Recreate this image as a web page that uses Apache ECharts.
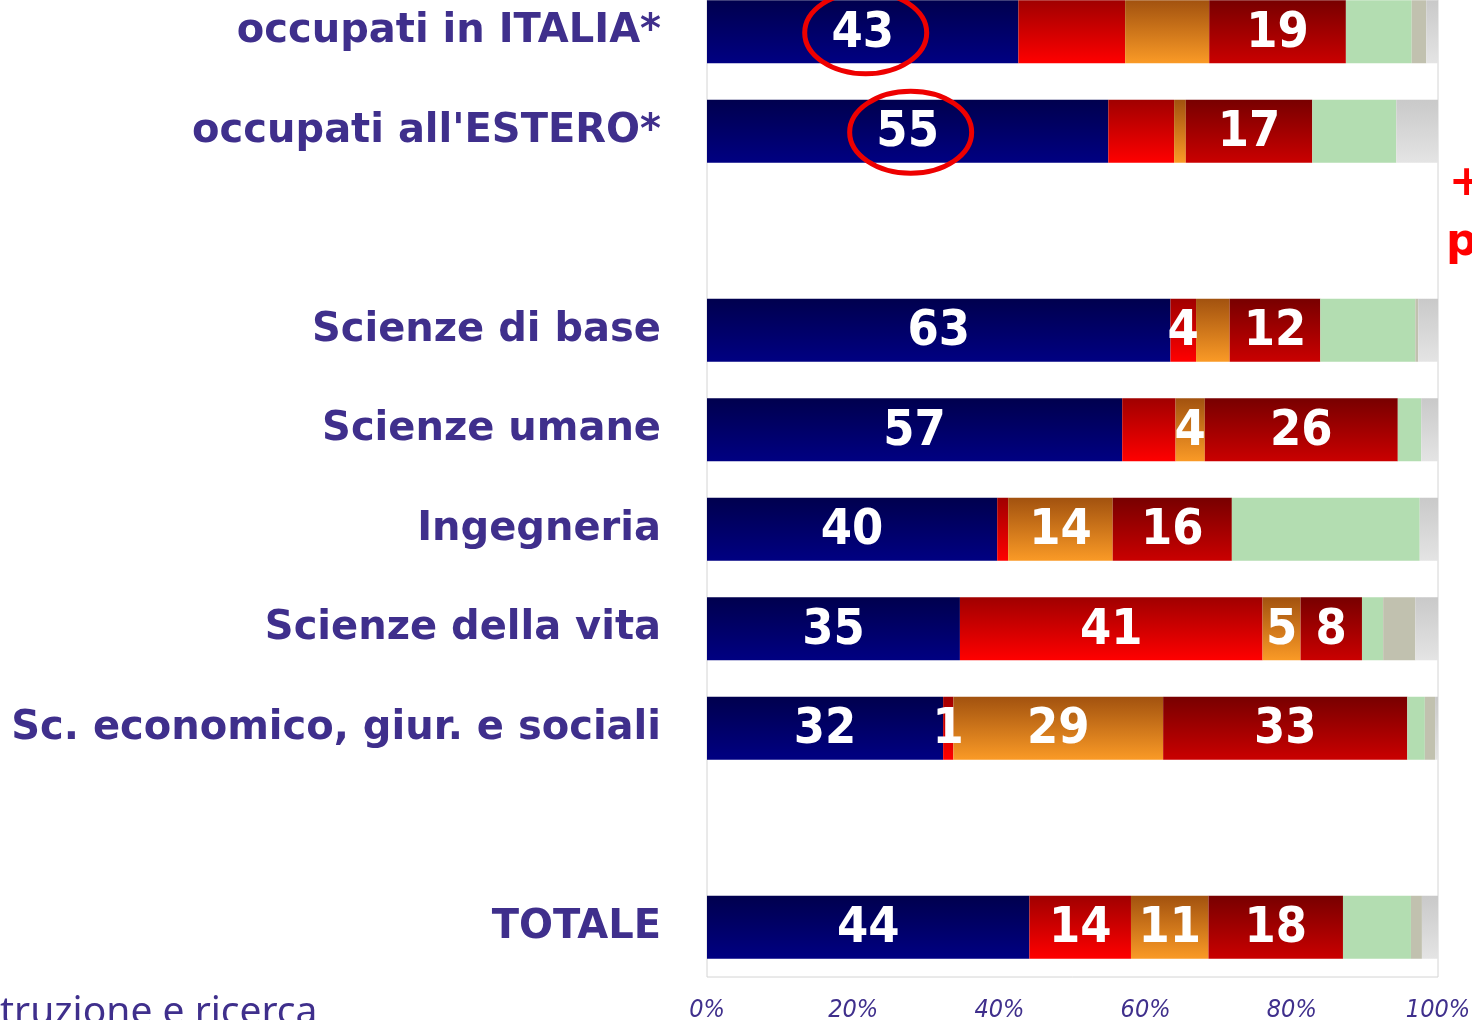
<!DOCTYPE html>
<html>
<head>
<meta charset="utf-8">
<script src="https://cdn.jsdelivr.net/npm/echarts@6/dist/echarts.min.js"></script>
<style>
html, body { margin: 0; padding: 0; background: #fff; }
#main { width: 1472px; height: 1020px; }
</style>
</head>
<body>
<div id="main"></div>
<script>
// categorie, dall'alto verso il basso ('' = riga vuota)
var categories = ['occupati in ITALIA*', "occupati all'ESTERO*", '', 'Scienze di base', 'Scienze umane',
	'Ingegneria', 'Scienze della vita', 'Sc. economico, giur. e sociali', '', 'TOTALE'];

// quote percentuali per segmento
var blu      = [42.6, 54.9, null, 63.4, 56.8, 39.7, 34.6, 32.3, null, 44.1];
var rosso    = [14.6,  9.0, null,  3.5,  7.3,  1.5, 41.4,  1.4, null, 13.9];
var arancio  = [11.5,  1.6, null,  4.6,  4.0, 14.3,  5.2, 28.7, null, 10.6];
var bordeaux = [18.7, 17.3, null, 12.4, 26.4, 16.3,  8.4, 33.4, null, 18.4];
var verde    = [ 9.0, 11.5, null, 13.0,  3.2, 25.7,  2.9,  2.4, null,  9.3];
var kaki     = [ 2.0,  0.0, null,  0.4,  0.0,  0.0,  4.4,  1.4, null,  1.5];
var grigio   = [ 1.6,  5.7, null,  2.7,  2.3,  2.5,  3.1,  0.4, null,  2.2];

// quali etichette compaiono nel grafico originale (1 = visibile)
var showBlu      = [1, 1, 0, 1, 1, 1, 1, 1, 0, 1];
var showRosso    = [0, 0, 0, 1, 0, 0, 1, 1, 0, 1];
var showArancio  = [0, 0, 0, 0, 1, 1, 1, 1, 0, 1];
var showBordeaux = [1, 1, 0, 1, 1, 1, 1, 1, 0, 1];

var xTicks = [0, 20, 40, 60, 80, 100];
var cerchiati = [0, 1]; // righe con il valore blu cerchiato

var viola = '#3f2f8c';

function grad(top, bottom) {
	return new echarts.graphic.LinearGradient(0, 0, 0, 1, [
		{offset: 0, color: top},
		{offset: 1, color: bottom}
	]);
}

function serie(name, values, color, shows) {
	var data = values.map(function(v, i) {
		if (v === null) return null;
		var item = {value: v};
		item.label = {show: !!(shows && shows[i])};
		return item;
	});
	return {
		name: name,
		type: 'bar',
		stack: 'tot',
		barWidth: 63,
		data: data,
		itemStyle: {color: color},
		label: {
			show: false,
			position: 'inside',
			offset: [0, 2],
			color: '#fff',
			fontFamily: 'DejaVu Sans Condensed',
			fontWeight: 'bold',
			fontSize: 50,
			formatter: function(p) { return Math.round(p.value); }
		},
		emphasis: {disabled: true},
		animation: false
	};
}

var chart = echarts.init(document.getElementById('main'));
var option = {
	animation: false,
	grid: {
		left: 707, right: 34, top: -18, bottom: 43,
		outerBoundsMode: 'none',
		show: true, borderColor: '#d4d4d4', borderWidth: 1,
		backgroundColor: 'transparent'
	},
	xAxis: {
		type: 'value',
		min: 0, max: 100, interval: 20,
		splitLine: {show: false},
		axisLine: {show: false},
		axisTick: {show: false},
		axisLabel: {
			margin: 21,
			color: viola,
			fontStyle: 'italic',
			fontFamily: 'DejaVu Sans Condensed',
			fontSize: 25,
			formatter: function(v) { return xTicks.indexOf(v) >= 0 ? v + '%' : ''; }
		}
	},
	yAxis: {
		type: 'category',
		inverse: true,
		data: categories,
		axisLine: {show: false},
		axisTick: {show: false},
		axisLabel: {
			margin: 46,
			padding: [4, 0, 0, 0],
			color: viola,
			fontFamily: 'DejaVu Sans',
			fontWeight: 'bold',
			fontSize: 40
		}
	},
	series: [
		serie('blu', blu, grad('#00004e', '#000082'), showBlu),
		serie('rosso', rosso, grad('#a00000', '#ff0000'), showRosso),
		serie('arancio', arancio, grad('#a2520f', '#fa9a26'), showArancio),
		serie('bordeaux', bordeaux, grad('#780000', '#ca0000'), showBordeaux),
		serie('verde', verde, '#b3ddb1', null),
		serie('kaki', kaki, '#c1c1af', null),
		serie('grigio', grigio, grad('#c9c9c9', '#e4e4e4'), null)
	]
};
chart.setOption(option);

// ellissi rosse attorno ai valori cerchiati + testi tagliati ai bordi
var elements = cerchiati.map(function(i) {
	var c = chart.convertToPixel({gridIndex: 0}, [blu[i] / 2, i]);
	return {
		type: 'ellipse',
		shape: {cx: c[0] + 3, cy: c[1] + 1, rx: 61, ry: 41},
		style: {fill: 'none', stroke: '#ee0000', lineWidth: 5},
		z: 10
	};
});
elements.push({
	type: 'text', left: 0, top: 993,
	style: {text: 'truzione e ricerca', fill: viola, font: '39px "Noto Sans"'}
});
elements.push({
	type: 'text', left: 1449, top: 163,
	style: {text: '+', fill: '#ff0000', font: 'bold 42px "DejaVu Sans"'}
});
elements.push({
	type: 'text', left: 1446, top: 222,
	style: {text: 'p', fill: '#ff0000', font: 'bold 44px "DejaVu Sans"'}
});
chart.setOption({graphic: {elements: elements}});
</script>
</body>
</html>
